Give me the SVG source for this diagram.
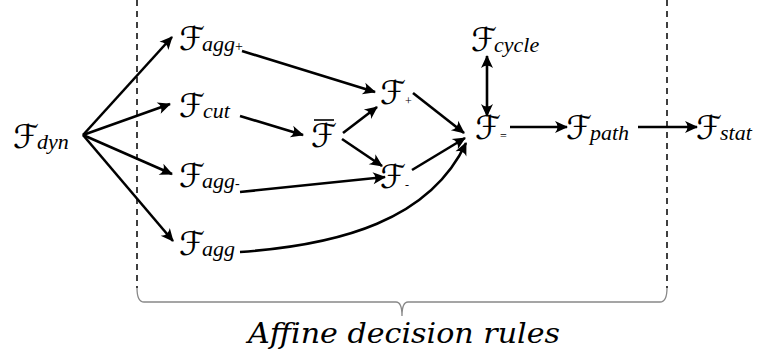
<svg xmlns="http://www.w3.org/2000/svg" width="757" height="358" viewBox="0 0 757 358">
<style>
.F{font-family:"DejaVu Sans",sans-serif;font-size:33px;fill:#000}
.s{font-family:"Liberation Serif",serif;font-style:italic;font-size:22px;fill:#000}
.sm{font-size:14px;font-style:normal}
.ss{font-family:"Liberation Serif",serif;font-size:12px;fill:#000}
.e{fill:none;stroke:#000;stroke-width:2.6;marker-end:url(#ah)}
.dash{fill:none;stroke:#000;stroke-width:1.5;stroke-dasharray:6,5}
.cap{font-family:"DejaVu Serif",serif;font-style:italic;font-size:28px;fill:#000}
</style>
<defs>
<marker id="ah" markerWidth="16" markerHeight="14" viewBox="-14 -7 16 14" refX="0" refY="0" orient="auto" markerUnits="userSpaceOnUse">
<path d="M1,0 L-12,-6 Q-7,0 -12,6 Z" fill="#000"/>
</marker>
<marker id="as" markerWidth="16" markerHeight="14" viewBox="-14 -7 16 14" refX="0" refY="0" orient="auto-start-reverse" markerUnits="userSpaceOnUse">
<path d="M1,0 L-12,-6 Q-7,0 -12,6 Z" fill="#000"/>
</marker>
</defs>
<rect width="757" height="358" fill="#fff"/>
<g id="frame">
<line class="dash" x1="137" y1="0" x2="137" y2="288"/>
<line class="dash" x1="667" y1="0" x2="667" y2="288"/>
<path d="M137,288 Q137,302 144,302 L396,302 Q402,302 402,316 Q402,302 408,302 L660,302 Q667,302 667,288" fill="none" stroke="#888" stroke-width="1.3"/>
<text class="cap" x="404" y="343" text-anchor="middle" textLength="312" lengthAdjust="spacingAndGlyphs">Affine decision rules</text>
</g>
<g id="connectors">
<line class="e" x1="83" y1="135" x2="172" y2="37"/>
<line class="e" x1="83" y1="135" x2="170" y2="104"/>
<line class="e" x1="83" y1="135" x2="172" y2="174"/>
<line class="e" x1="83" y1="135" x2="173" y2="241"/>
<line class="e" x1="242" y1="51" x2="375" y2="92"/>
<line class="e" x1="240" y1="116" x2="303" y2="135"/>
<line class="e" x1="343" y1="133" x2="377" y2="107"/>
<line class="e" x1="342" y1="139" x2="382" y2="166"/>
<line class="e" x1="240" y1="192" x2="385" y2="177"/>
<path class="e" d="M240,252 C340,245 430,220 466,143"/>
<line class="e" x1="413" y1="93" x2="464" y2="133"/>
<line class="e" x1="412" y1="170" x2="465" y2="138"/>
<line class="e" x1="487" y1="56" x2="487" y2="116" marker-start="url(#as)"/>
<line class="e" x1="510" y1="127" x2="567" y2="127"/>
<line class="e" x1="638" y1="127" x2="697" y2="127"/>
</g>
<g id="n-dyn"><text class="F" x="13" y="148">ℱ</text><text class="s" x="37" y="149">dyn</text></g>
<g id="n-aggp"><text class="F" x="179" y="50">ℱ</text><text class="s" x="202" y="51">agg<tspan class="sm">+</tspan></text></g>
<g id="n-cut"><text class="F" x="179" y="117">ℱ</text><text class="s" x="203" y="118">cut</text></g>
<g id="n-aggm"><text class="F" x="179" y="187">ℱ</text><text class="s" x="202" y="188">agg<tspan class="sm">-</tspan></text></g>
<g id="n-agg"><text class="F" x="179" y="255">ℱ</text><text class="s" x="202" y="256">agg</text></g>
<g id="n-bar"><text class="F" x="311" y="147">ℱ</text><line x1="314" y1="120" x2="334" y2="120" stroke="#000" stroke-width="1.6"/></g>
<g id="n-plus"><text class="F" x="380" y="104">ℱ</text><text class="ss" x="405" y="105">+</text></g>
<g id="n-minus"><text class="F" x="380" y="188">ℱ</text><text class="ss" x="405" y="189">-</text></g>
<g id="n-eq"><text class="F" x="475" y="139">ℱ</text><text class="ss" x="500" y="140">=</text></g>
<g id="n-cycle"><text class="F" x="471" y="51">ℱ</text><text class="s" x="494" y="52">cycle</text></g>
<g id="n-path"><text class="F" x="566" y="139">ℱ</text><text class="s" x="590" y="140">path</text></g>
<g id="n-stat"><text class="F" x="696" y="139">ℱ</text><text class="s" x="720" y="140">stat</text></g>
</svg>
